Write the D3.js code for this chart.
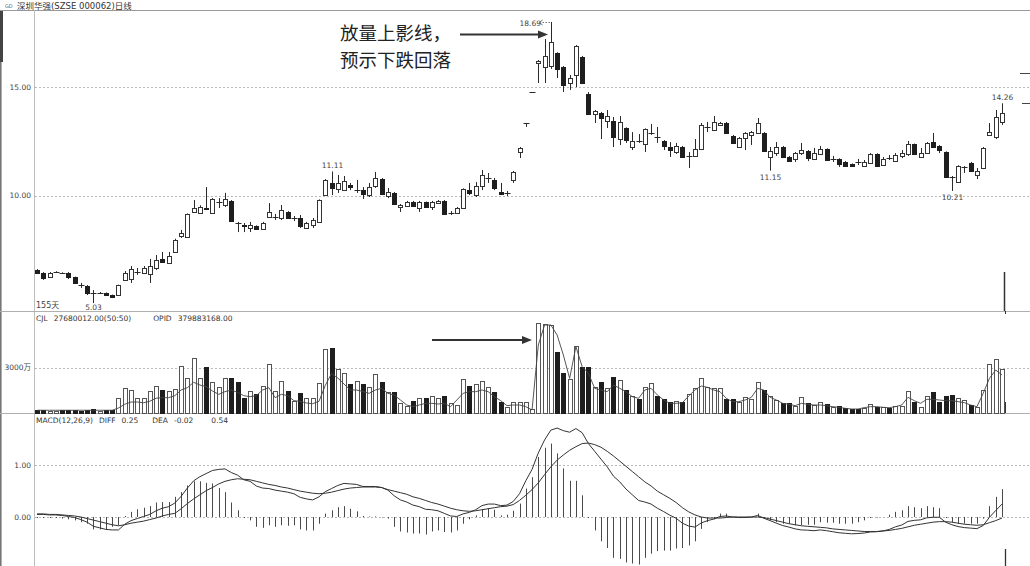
<!DOCTYPE html>
<html><head><meta charset="utf-8">
<script src="https://cdn.jsdelivr.net/npm/d3@7"></script>
<style>body{margin:0;background:#fff;} svg{display:block;font-family:"DejaVu Sans","Noto Sans CJK SC",sans-serif;}</style>
</head><body><svg id="c" width="1030" height="566"></svg>
<script>
// ---- data ----
const opens=[6.56,6.42,6.23,6.45,6.43,6.42,6.23,5.87,5.82,5.50,
5.49,5.49,5.40,5.40,6.10,6.14,6.45,6.42,6.37,6.65,
7.07,6.88,7.39,8.13,8.08,9.24,9.19,9.40,9.19,9.70,
9.56,9.75,8.75,8.62,8.50,8.59,8.45,9.01,9.00,8.96,
9.24,8.95,8.96,8.50,8.64,8.78,10.02,10.58,10.30,10.25,
10.49,10.24,10.25,10.02,10.44,10.76,9.98,10.12,9.47,9.51,
9.70,9.42,9.70,9.47,9.65,9.75,9.18,9.19,9.42,10.25,
10.02,10.44,10.80,10.72,10.16,10.11,10.72,12.01,13.35,14.78,
16.10,15.94,15.98,16.59,15.94,15.20,15.57,16.40,14.69,13.77,
13.81,13.44,13.44,12.61,13.12,12.24,12.53,12.38,12.88,12.71,
12.52,12.24,12.01,12.24,11.82,11.83,12.15,13.16,13.03,13.26,
13.35,12.75,12.24,12.66,12.80,12.89,12.89,11.78,11.96,12.24,
11.78,11.69,11.96,12.06,11.69,11.92,12.15,11.68,11.69,11.55,
11.46,11.56,11.36,11.50,11.92,11.41,11.74,11.59,11.83,11.92,
12.38,11.78,11.96,12.47,12.29,12.01,10.86,10.62,11.32,11.50,
10.95,11.27,12.80,12.70,13.40];
const highs=[6.60,6.46,6.46,6.50,6.45,6.46,6.25,5.96,5.86,5.63,
5.54,5.52,5.42,5.88,6.51,6.74,6.65,6.74,7.07,7.25,
7.39,7.39,8.00,8.41,9.17,9.79,9.55,10.39,9.88,9.88,
10.12,9.79,8.78,8.73,8.78,8.62,8.78,9.65,9.15,9.56,
9.28,9.05,9.10,8.78,8.96,9.82,10.76,11.11,10.95,10.90,
10.58,10.72,10.39,10.58,11.09,10.81,10.35,10.16,9.61,9.75,
9.75,9.75,9.72,9.75,9.79,9.79,9.28,9.47,10.33,10.58,
10.62,11.18,11.04,10.81,10.58,10.21,11.13,12.24,13.35,14.78,
16.26,17.23,18.02,16.62,15.98,15.57,16.95,16.45,14.78,13.95,
13.86,13.95,13.63,13.67,13.15,12.93,12.84,13.10,13.31,13.17,
12.56,12.47,12.43,12.29,12.01,12.61,13.35,13.40,13.67,13.40,
13.40,12.80,12.70,12.93,12.98,13.58,12.93,12.24,12.47,12.29,
11.82,12.01,12.43,12.10,12.20,12.29,12.18,11.83,11.72,11.59,
11.48,11.69,11.64,11.96,11.95,11.78,11.87,11.96,12.10,12.52,
12.40,12.20,12.47,12.89,12.33,12.04,10.90,11.40,11.36,11.55,
11.27,12.24,13.35,13.95,14.26];
const lows=[6.37,6.10,6.19,6.43,6.38,6.14,5.92,5.73,5.40,5.03,
5.45,5.37,5.26,5.38,6.05,5.96,6.33,6.37,5.96,6.56,
6.88,6.85,7.35,8.04,8.04,9.19,9.15,9.33,9.15,9.42,
9.47,8.78,8.31,8.31,8.31,8.41,8.41,8.96,8.87,8.87,
8.92,8.82,8.50,8.45,8.50,8.75,9.98,10.02,10.12,10.21,
10.25,10.12,9.84,9.93,10.35,10.02,9.88,9.56,9.24,9.47,
9.47,9.24,9.42,9.33,9.61,9.10,9.10,9.15,9.38,10.02,
9.93,10.25,10.58,10.25,10.02,9.98,10.58,11.73,13.17,14.78,
15.20,15.20,15.85,15.43,14.78,14.88,15.01,15.15,13.72,13.35,
12.61,13.12,12.24,12.33,12.43,12.10,12.43,12.01,12.80,12.43,
12.10,11.78,11.92,11.75,11.27,11.78,12.10,12.93,12.98,13.21,
12.84,12.38,12.20,12.10,12.33,12.84,12.01,11.15,11.83,11.73,
11.55,11.55,11.87,11.59,11.64,11.87,11.60,11.55,11.32,11.32,
11.33,11.41,11.32,11.46,11.32,11.38,11.64,11.55,11.73,11.83,
11.88,11.75,11.92,12.20,11.96,10.81,10.21,10.58,11.04,11.09,
10.76,11.22,12.75,12.61,13.26];
const closes=[6.42,6.19,6.42,6.47,6.41,6.23,5.96,5.85,5.49,5.48,
5.50,5.40,5.31,5.86,6.42,6.60,6.47,6.65,6.74,7.02,
6.93,7.20,7.94,8.27,9.15,9.42,9.47,9.36,9.84,9.72,
9.84,8.82,8.73,8.58,8.64,8.45,8.73,9.24,9.02,9.33,
8.96,8.97,8.59,8.73,8.87,9.79,10.72,10.35,10.58,10.67,
10.39,10.26,10.07,10.39,10.81,10.07,10.16,9.61,9.56,9.70,
9.51,9.70,9.47,9.70,9.75,9.15,9.20,9.42,10.30,10.12,
10.44,10.95,10.82,10.35,10.07,10.13,11.09,12.20,13.35,14.78,
16.20,16.45,17.09,15.85,15.11,15.43,16.91,15.20,13.77,13.90,
13.58,13.67,12.70,13.40,12.56,12.52,12.51,13.07,12.90,12.69,
12.29,12.10,12.29,11.78,11.84,12.15,13.26,13.18,13.40,13.35,
12.89,12.43,12.66,12.89,12.93,13.35,12.06,12.06,12.24,11.78,
11.59,11.96,12.10,11.73,11.96,12.15,11.64,11.70,11.46,11.36,
11.36,11.54,11.55,11.92,11.36,11.69,11.72,11.87,11.96,12.38,
11.92,11.96,12.43,12.24,12.10,10.85,10.85,11.36,11.33,11.13,
11.13,12.20,12.93,13.63,13.81];
// volume, in 万 shares
const volumes=[180,200,120,130,150,170,200,130,190,220,
130,160,140,944,1611,1500,944,944,1433,1789,
1500,1456,1567,3100,2278,3611,2278,3011,2056,1678,
2278,2278,2056,944,1433,1211,1789,3233,1456,2100,
1433,789,1278,944,944,1989,4233,4278,2878,2611,
1900,2100,1900,1722,2544,2011,1389,1389,611,456,
767,989,989,1122,989,1122,611,500,2233,1789,
1900,2122,1678,1389,678,389,722,722,678,233,
5944,5900,5833,4011,2656,2233,4456,3011,3011,1678,
2011,1611,2344,2167,1500,1100,900,1678,1944,1100,
878,678,789,722,1211,1611,2322,1678,1611,1611,
900,900,678,1011,878,2011,1500,1100,833,656,
611,456,1011,611,500,678,567,344,456,278,
233,233,278,567,389,344,278,456,456,1433,
678,344,1122,1389,678,1100,1167,944,833,500,
389,1500,3233,3567,2900];
const volumeAvg=[150,150,150,150,150,150,150,150,150,150,
150,150,150,300,550,700,700,650,750,950,
990,990,1120,1500,1656,2011,1833,1722,1433,1211,
1389,1500,1344,1122,1056,1122,1500,1656,989,1211,
1122,789,744,633,589,744,1800,2600,2300,1900,
1500,1500,1400,1278,1500,1611,1278,1167,833,500,
389,500,611,611,567,611,389,833,1278,1389,
1389,1500,1389,1056,789,456,500,500,389,167,
4500,5833,5833,5167,3833,2278,4389,3056,2611,1611,
1500,1389,1833,1611,1389,1056,944,1500,1611,1167,
833,611,611,656,1100,1500,1767,1678,1500,1389,
944,722,722,833,1011,1611,1500,1011,833,611,
544,456,611,544,500,500,456,389,344,278,
233,233,322,389,389,344,322,389,500,1011,
789,611,878,878,833,789,789,722,656,500,
389,1278,2278,2833,2500];
const diffs=[0.05,0.05,0.04,0.04,0.03,0.01,-0.01,-0.05,-0.10,-0.18,
-0.21,-0.24,-0.25,-0.25,-0.14,-0.07,-0.03,0.01,0.05,0.12,
0.17,0.20,0.27,0.40,0.56,0.70,0.78,0.84,0.90,0.92,
0.93,0.86,0.81,0.72,0.69,0.60,0.56,0.55,0.52,0.50,
0.48,0.45,0.38,0.35,0.33,0.39,0.49,0.55,0.61,0.65,
0.64,0.63,0.59,0.59,0.59,0.57,0.52,0.41,0.33,0.29,
0.23,0.20,0.15,0.14,0.12,0.07,0.02,0.01,0.06,0.09,
0.14,0.22,0.25,0.25,0.22,0.23,0.30,0.45,0.70,0.92,
1.24,1.49,1.68,1.72,1.67,1.64,1.71,1.63,1.42,1.27,
1.12,0.97,0.79,0.68,0.54,0.43,0.32,0.29,0.25,0.17,
0.105,0.035,-0.025,-0.12,-0.175,-0.195,-0.115,-0.07,-0.04,0.01,
0.02,0.00,-0.01,-0.01,0.00,0.03,-0.025,-0.07,-0.12,-0.165,
-0.195,-0.23,-0.25,-0.255,-0.265,-0.25,-0.265,-0.285,-0.305,-0.315,
-0.325,-0.32,-0.31,-0.29,-0.285,-0.27,-0.24,-0.19,-0.155,-0.085,
-0.065,-0.055,-0.015,-0.005,-0.005,-0.10,-0.15,-0.185,-0.205,-0.215,
-0.225,-0.165,-0.005,0.125,0.25];
const deas=[0.06,0.06,0.05,0.05,0.04,0.03,0.02,0.00,-0.03,-0.06,
-0.09,-0.12,-0.15,-0.17,-0.15,-0.12,-0.10,-0.08,-0.05,-0.02,
0.02,0.05,0.07,0.16,0.26,0.35,0.43,0.51,0.57,0.64,
0.69,0.72,0.74,0.73,0.72,0.69,0.66,0.63,0.61,0.58,
0.56,0.53,0.50,0.48,0.46,0.45,0.46,0.48,0.51,0.54,
0.56,0.57,0.58,0.58,0.58,0.57,0.53,0.50,0.47,0.44,
0.39,0.36,0.32,0.28,0.25,0.21,0.17,0.14,0.12,0.11,
0.12,0.14,0.16,0.18,0.20,0.21,0.24,0.32,0.42,0.53,
0.66,0.82,0.97,1.10,1.20,1.29,1.36,1.42,1.43,1.40,
1.35,1.27,1.18,1.08,0.98,0.88,0.78,0.68,0.60,0.50,
0.43,0.36,0.28,0.18,0.10,0.04,0.00,-0.02,-0.02,-0.02,
-0.01,0.00,0.00,0.00,0.00,0.00,-0.01,-0.04,-0.07,-0.10,
-0.13,-0.15,-0.17,-0.18,-0.19,-0.20,-0.21,-0.23,-0.24,-0.25,
-0.26,-0.27,-0.28,-0.28,-0.28,-0.27,-0.26,-0.24,-0.22,-0.19,
-0.16,-0.14,-0.12,-0.10,-0.09,-0.09,-0.10,-0.12,-0.14,-0.15,
-0.16,-0.15,-0.11,-0.07,-0.02];
const macdBars=[-0.02,-0.02,-0.02,-0.02,-0.03,-0.045,-0.065,-0.10,-0.13,-0.24,
-0.24,-0.24,-0.19,-0.16,0.02,0.10,0.15,0.18,0.21,0.28,
0.29,0.29,0.39,0.48,0.61,0.69,0.69,0.66,0.65,0.56,
0.48,0.28,0.13,-0.02,-0.065,-0.19,-0.21,-0.16,-0.19,-0.16,
-0.17,-0.16,-0.24,-0.26,-0.26,-0.13,0.065,0.13,0.19,0.21,
0.16,0.11,0.02,0.01,0.01,-0.01,-0.03,-0.19,-0.28,-0.30,
-0.32,-0.32,-0.34,-0.28,-0.26,-0.29,-0.30,-0.26,-0.13,-0.045,
0.03,0.15,0.17,0.14,0.03,0.045,0.12,0.26,0.55,0.77,
1.16,1.34,1.42,1.23,0.94,0.70,0.70,0.42,-0.02,-0.26,
-0.47,-0.60,-0.79,-0.81,-0.88,-0.90,-0.92,-0.79,-0.71,-0.66,
-0.65,-0.65,-0.61,-0.60,-0.55,-0.47,-0.23,-0.10,-0.045,0.065,
0.065,0.0,-0.02,-0.02,0.0,0.065,-0.03,-0.065,-0.10,-0.13,
-0.13,-0.16,-0.16,-0.15,-0.15,-0.10,-0.11,-0.11,-0.13,-0.13,
-0.13,-0.10,-0.065,-0.02,-0.01,0.0,0.045,0.10,0.13,0.21,
0.19,0.17,0.21,0.19,0.17,-0.02,-0.10,-0.13,-0.13,-0.13,
-0.13,-0.03,0.21,0.39,0.54];
const priceTicks=[10,15];
const volumeTicks=[3000];
const macdTicks=[0,1];
const markLabels=[{i:9,text:"5.03",kind:"low"},{i:47,text:"11.11",kind:"high"},{i:117,text:"11.15",kind:"low"},{i:146,text:"10.21",kind:"low"},{i:154,text:"14.26",kind:"high"}];
const peakLabel={i:82,text:"18.69"};
const titleText="深圳华强(SZSE 000062)日线";
const volHeader=["CJL","27680012.00(50:50)","OPID","379883168.00"];
const macdHeader=["MACD(12,26,9)","DIFF","0.25","DEA","-0.02","0.54"];
const noteLines=["放量上影线，","预示下跌回落"];

// ---- drawing ----
const svg=d3.select("#c");
const N=opens.length;
const xc=d3.scaleLinear().domain([0,N-1]).range([37,1002]);
const yP=d3.scaleLinear().domain([10,15]).range([195.5,87.3]);
const yV=d3.scaleLinear().domain([0,3000]).range([412.5,367.5]);
const yM=d3.scaleLinear().domain([0,1]).range([517,465.3]);
const cx=i=>Math.round(xc(i))+0.5;
const ink="#2a2a2a", lab="#444";

// frame
svg.append("rect").attr("x",0).attr("y",10).attr("width",1.6).attr("height",556).attr("fill","#777");
svg.append("rect").attr("x",0).attr("y",10).attr("width",3).attr("height",52).attr("fill","#444");
svg.append("line").attr("x1",0).attr("x2",1030).attr("y1",10.5).attr("y2",10.5).attr("stroke","#9a9a9a");
svg.append("line").attr("x1",34.5).attr("x2",34.5).attr("y1",10).attr("y2",566).attr("stroke","#bdbdbd");
[311.5,413.5].forEach(y=>svg.append("line").attr("x1",0).attr("x2",1030).attr("y1",y).attr("y2",y).attr("stroke","#b0b0b0"));

// title
svg.append("text").attr("x",5).attr("y",8).attr("font-size",5).attr("fill","#666").text("GD");
svg.append("text").attr("x",17).attr("y",8.5).attr("font-size",8.5).attr("fill","#333").text(titleText);

// axes + grids
function axis(scale,vals,fmt){
  const g=svg.append("g").attr("transform","translate(31,0)")
    .call(d3.axisLeft(scale).tickValues(vals).tickSize(0).tickPadding(0).tickFormat(fmt));
  g.select(".domain").remove();
  g.selectAll("text").attr("font-size",7.5).attr("fill",lab).attr("font-family","DejaVu Sans, Noto Sans CJK SC");
  svg.append("g").selectAll("line").data(vals).join("line")
    .attr("x1",35).attr("x2",1030)
    .attr("y1",d=>Math.round(scale(d))+0.5).attr("y2",d=>Math.round(scale(d))+0.5)
    .attr("stroke","#b8b8b8").attr("stroke-dasharray","2,2");
}
axis(yP,priceTicks,d3.format(".2f"));
axis(yV,volumeTicks,d=>d+"万");
axis(yM,macdTicks,d3.format(".2f"));

// candles
const cg=svg.append("g");
d3.range(N).forEach(i=>{
  const o=opens[i],c=closes[i],h=highs[i],l=lows[i],up=c>=o,x=cx(i);
  cg.append("line").attr("x1",x).attr("x2",x).attr("y1",yP(h)).attr("y2",yP(l)).attr("stroke",ink).attr("stroke-width",1);
  const t=Math.round(yP(Math.max(o,c))), b=Math.round(yP(Math.min(o,c)));
  if(b-t<1){
    cg.append("line").attr("x1",x-3).attr("x2",x+3).attr("y1",t+0.5).attr("y2",t+0.5).attr("stroke",ink);
  } else {
    cg.append("rect").attr("x",x-2).attr("y",t+0.5).attr("width",4).attr("height",b-t)
      .attr("fill",up?"#fff":"#1e1e1e").attr("stroke",up?"#333":"#1e1e1e").attr("stroke-width",1);
  }
});
// price marks
svg.append("text").attr("x",36).attr("y",308).attr("font-size",8).attr("fill",lab).text(N+"天");
markLabels.forEach(m=>{
  const y=m.kind==="low"?yP(lows[m.i])+(m.i===9?6.5:9):yP(highs[m.i])-3;
  svg.append("text").attr("x",cx(m.i)).attr("y",y).attr("text-anchor","middle").attr("font-size",7.5).attr("fill",lab).text(m.text);
});
{
  const px=cx(peakLabel.i), py=Math.round(yP(highs[peakLabel.i]))+0.5;
  svg.append("text").attr("x",px-32).attr("y",py+3).attr("font-size",7.5).attr("fill",lab).text(peakLabel.text);
  svg.append("path").attr("d",`M${px-9},${py-2.5}L${px-12},${py}L${px-9},${py+2.5}`).attr("fill","none").attr("stroke","#666");
  svg.append("line").attr("x1",px-12).attr("x2",px).attr("y1",py).attr("y2",py).attr("stroke","#777").attr("stroke-dasharray","1.5,1.5");
}

// volume
const vg=svg.append("g");
d3.range(N).forEach(i=>{
  const up=closes[i]>=opens[i], x=cx(i);
  const t=Math.round(yV(volumes[i])), b=Math.round(yV(0));
  vg.append("rect").attr("x",x-2).attr("y",t+0.5).attr("width",4).attr("height",Math.max(b-t,1))
    .attr("fill",up?"#fff":"#1e1e1e").attr("stroke",up?"#555":"#1e1e1e").attr("stroke-width",1);
});
svg.append("path").datum(volumeAvg)
  .attr("d",d3.line().x((d,i)=>xc(i)).y(d=>yV(d)))
  .attr("fill","none").attr("stroke","#444").attr("stroke-width",0.9);
{
  let x=36; const gaps=[6,22,6,0];
  volHeader.forEach((s,k)=>{
    const t=svg.append("text").attr("x",x).attr("y",321).attr("font-size",7.5).attr("fill","#333").text(s);
    x+=t.node().getComputedTextLength()+gaps[k];
  });
}

// MACD
const mg=svg.append("g");
d3.range(N).forEach(i=>{
  mg.append("line").attr("x1",cx(i)).attr("x2",cx(i)).attr("y1",yM(0)).attr("y2",yM(macdBars[i]))
    .attr("stroke","#4a4a4a").attr("stroke-width",1);
});
[diffs,deas].forEach(arr=>{
  svg.append("path").datum(arr).attr("d",d3.line().x((d,i)=>xc(i)).y(d=>yM(d)))
    .attr("fill","none").attr("stroke","#333").attr("stroke-width",1);
});
{
  let x=36; const gaps=[6,6,14,6,18,0];
  macdHeader.forEach((s,k)=>{
    const t=svg.append("text").attr("x",x).attr("y",423).attr("font-size",7.5).attr("fill","#333").text(s);
    x+=t.node().getComputedTextLength()+gaps[k];
  });
}

// cursor / edge marks
svg.append("line").attr("x1",1004.5).attr("x2",1004.5).attr("y1",272).attr("y2",311).attr("stroke","#333").attr("stroke-width",1.5);
svg.append("line").attr("x1",1005.5).attr("x2",1005.5).attr("y1",402).attr("y2",413).attr("stroke","#333");
svg.append("line").attr("x1",1005.5).attr("x2",1005.5).attr("y1",311).attr("y2",314).attr("stroke","#333");
svg.append("line").attr("x1",1005.5).attr("x2",1005.5).attr("y1",549).attr("y2",566).attr("stroke","#333").attr("stroke-width",1.3);
svg.append("line").attr("x1",1020).attr("x2",1030).attr("y1",73.5).attr("y2",73.5).attr("stroke","#444");
svg.append("line").attr("x1",1022).attr("x2",1030).attr("y1",103.5).attr("y2",103.5).attr("stroke","#444");

// annotation
svg.append("text").attr("x",340).attr("y",40).attr("font-size",18.5).attr("font-family","Noto Sans CJK SC").attr("fill","#222").text(noteLines[0]);
svg.append("text").attr("x",340).attr("y",67).attr("font-size",18.5).attr("font-family","Noto Sans CJK SC").attr("fill","#222").text(noteLines[1]);
function arrow(x1,x2,y){
  svg.append("line").attr("x1",x1).attr("x2",x2-9).attr("y1",y).attr("y2",y).attr("stroke","#333").attr("stroke-width",2);
  svg.append("path").attr("d",`M${x2},${y}L${x2-10},${y-4}L${x2-10},${y+4}Z`).attr("fill","#333");
}
arrow(460,548,34.5);
arrow(432,532,340);
</script></body></html>
